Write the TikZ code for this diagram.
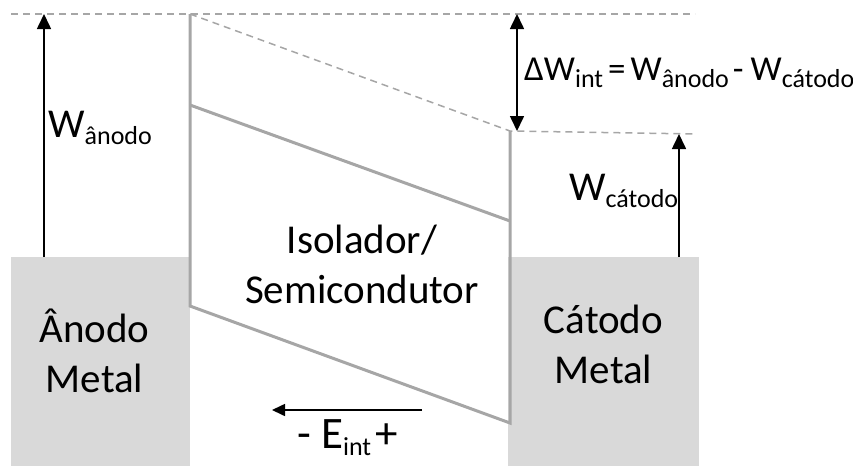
\documentclass[tikz,border=0pt]{standalone}
\usepackage{fontspec}
\setmainfont{Carlito}
\usetikzlibrary{arrows.meta}
\definecolor{metalgray}{HTML}{D9D9D9}
\definecolor{bandgray}{HTML}{A6A6A6}
\newcommand{\lowsub}[1]{\raisebox{-7pt}{\fontsize{26}{26}\selectfont #1}}
\begin{document}
\begin{tikzpicture}[
    x=1pt, y=-1pt,
    font=\fontsize{41}{50}\selectfont,
    metal box/.style={fill=metalgray, draw=none, inner sep=0pt},
    metal text/.style={align=center, inner sep=0pt},
    band line/.style={draw=bandgray, line width=3pt, line join=miter},
    level line/.style={draw=bandgray, line width=1.5pt, dash pattern=on 7pt off 5pt},
    work arrow/.style={-{Triangle[length=15pt,width=14pt]}, draw=black, line width=1.6pt},
    label text/.style={anchor=base west, inner sep=0pt}
]
    \useasboundingbox (0,0) rectangle (853,466);

    % metal contacts
    \node[metal box, minimum width=179pt, minimum height=209pt] (anodo) at (100.5,361.5) {};
    \node[metal box, minimum width=191pt, minimum height=209pt] (catodo) at (603.5,361.5) {};
    \node[metal text] (anodotext) at ([xshift=-6pt,yshift=11pt]anodo.center) {Ânodo\\Metal};
    \node[metal text] (catodotext) at ([yshift=17pt]catodo.center) {Cátodo\\Metal};

    % band corners
    \coordinate (vacA) at (190,14);
    \coordinate (cbA) at (190,105);
    \coordinate (vbA) at (190,306);
    \coordinate (vacC) at (510,131);
    \coordinate (cbC) at (510,221);
    \coordinate (vbC) at (510,423);

    % vacuum levels
    \coordinate (topleft) at (11,14);
    \coordinate (topright) at (695,14);
    \coordinate (lowright) at (697,134);
    \draw[level line] (topleft) -- (topright);
    \draw[level line] (vacA) -- (vacC) -- (lowright);

    % insulator / semiconductor
    \draw[band line] (vacA) -- (vbA) -- (vbC) -- (vacC);
    \draw[band line] (cbA) -- (cbC);
    \node[metal text] (isolador) at (362,264) {Isolador/\\Semicondutor};

    % work functions
    \coordinate (wa0) at (44,257);
    \coordinate (wa1) at (44,14);
    \draw[work arrow] (wa0) -- (wa1);
    \node[label text] (walabel) at (48,137) {W\lowsub{ânodo}};

    \coordinate (wc0) at (679,257);
    \coordinate (wc1) at (679,134);
    \draw[work arrow] (wc0) -- (wc1);
    \node[label text] (wclabel) at (569,200) {W\lowsub{cátodo}};

    \coordinate (dw0) at (517,14);
    \coordinate (dw1) at (517,131);
    \draw[work arrow, {Triangle[length=15pt,width=14pt]}-{Triangle[length=15pt,width=14pt]}] (dw0) -- (dw1);
    \node[label text, font=\fontsize{35}{40}\selectfont] (dwlabel) at (524,80)
        {ΔW\lowsub{int}\hspace{5pt}=\hspace{5pt}W\lowsub{ânodo}\hspace{4pt}-\hspace{7pt}W\lowsub{cátodo}};

    % internal field
    \coordinate (e0) at (422,410);
    \coordinate (e1) at (272,410);
    \draw[work arrow, -{Triangle[length=13pt,width=12pt]}] (e0) -- (e1);
    \node[label text, font=\fontsize{45}{50}\selectfont] (elabel) at (297,448) {- E\lowsub{int}\hspace{4pt}+};

\end{tikzpicture}
\end{document}
